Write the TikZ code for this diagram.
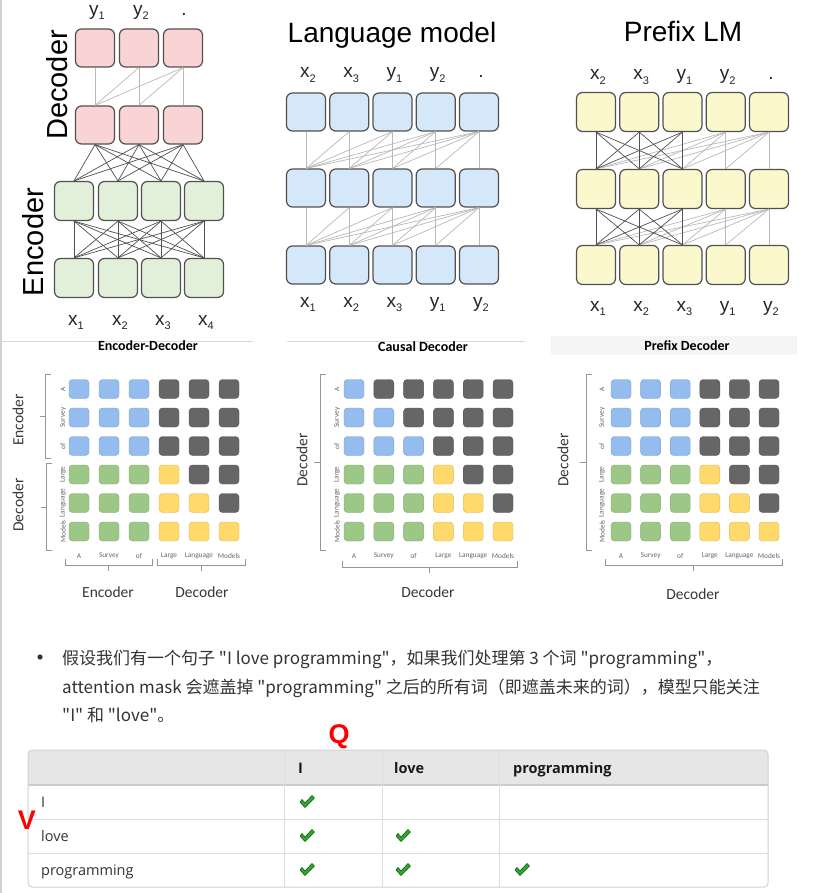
\documentclass[tikz,border=0pt]{standalone}
\usepackage{fontspec}
\setmainfont{Liberation Sans}
\newfontfamily\cjk{Noto Sans CJK SC}
\newfontfamily\carl{Carlito}
\newfontfamily\osans{Open Sans}
\usetikzlibrary{calc}
\definecolor{pinkf}{RGB}{250,212,212}
\definecolor{greenf}{RGB}{226,240,217}
\definecolor{bluef}{RGB}{213,232,250}
\definecolor{yellowf}{RGB}{252,248,206}
\definecolor{boxb}{RGB}{80,80,80}
\definecolor{lnlight}{RGB}{185,185,185}
\definecolor{lndark}{RGB}{80,80,80}
\definecolor{cb}{RGB}{148,188,238}
\definecolor{ck}{RGB}{102,102,102}
\definecolor{cg}{RGB}{156,199,134}
\definecolor{cy}{RGB}{255,217,108}
\definecolor{brkc}{RGB}{150,150,150}
\definecolor{txt}{RGB}{51,51,51}
\definecolor{hdr}{RGB}{230,230,230}
\definecolor{tline}{RGB}{221,221,221}
\definecolor{chk}{RGB}{40,175,40}
\definecolor{chkd}{RGB}{25,80,25}
\newcommand\nnlab[2]{{\fontsize{19}{19}\selectfont #1}\raisebox{-4.5pt}{\fontsize{11}{11}\selectfont #2}}
\newcommand\gridrow[6]{\foreach \cc [count=\kk] in {#6}{\node[cell, fill=\cc, draw=\cc!85!black] (#1r#2c\kk) at ({#4+(\kk-1)*#5},#3) {};}}
\newcommand\gridlabs[4]{\foreach \w [count=\kk] in {A,Survey,of,Large,Language,Models}{%
  \node[rlab, rotate=90] (#1rl\kk) at (#2,{389+(\kk-1)*28.5}) {\w};
  \node[rlab] (#1cl\kk) at ({#3+(\kk-1)*#4},556) {\w};}}
\begin{document}
\begin{tikzpicture}[x=1pt,y=-1pt,
  nnbox/.style={draw=boxb, line width=1.2pt, rounded corners=6pt, minimum width=39pt, minimum height=38pt, inner sep=0pt},
  lightln/.style={draw=lnlight, line width=0.7pt},
  darkln/.style={draw=lndark, line width=0.7pt},
  lbl/.style={anchor=base, inner sep=0pt, text=black!85},
  cell/.style={minimum width=20pt, minimum height=19pt, rounded corners=3.5pt, inner sep=0pt, line width=0.4pt},
  rlab/.style={font=\carl\fontsize{7.3}{7.3}\selectfont, text=black!60, inner sep=0pt},
  bigl/.style={font=\carl\fontsize{15.5}{15.5}\selectfont, text=black!78, inner sep=0pt},
  ttl/.style={font=\carl\bfseries\fontsize{14}{14}\selectfont, inner sep=0pt},
  brk/.style={draw=brkc, line width=0.7pt},
  tcell/.style={font=\osans\fontsize{14.5}{14.5}\selectfont, text=txt, inner sep=0pt, anchor=base west},
  thd/.style={font=\osans\bfseries\fontsize{14.5}{14.5}\selectfont, text=black!90, inner sep=0pt, anchor=base west},
  para/.style={font=\cjk\fontsize{17}{17}\selectfont, text=txt, inner sep=0pt, anchor=base west},
  chkmark/.pic={\filldraw[fill=chk, draw=chkd, line width=0.6pt, line join=round] (-5,-2.5) -- (-2,1) -- (5,-6.5) -- (7.5,-4) -- (-2,5.5) -- (-7,0) -- cycle;}
]
\fill[white] (0,0) rectangle (820,893);
\useasboundingbox (0,0) rectangle (820,893);
\draw[line width=2pt, draw={rgb,255:red,205;green,208;blue,212}] (1,0) -- (1,893);

% ---------- top-left: encoder-decoder ----------
\foreach \i/\x in {1/95,2/139,3/183} {
  \node[nnbox, fill=pinkf] (dt\i) at (\x,48) {};
  \node[nnbox, fill=pinkf] (db\i) at (\x,125) {};
}
\foreach \i/\x in {1/74,2/118,3/161,4/204} {
  \node[nnbox, fill=greenf, minimum height=39pt] (et\i) at (\x,201) {};
  \node[nnbox, fill=greenf, minimum height=39pt] (eb\i) at (\x,278) {};
}
\foreach \j in {1,2,3} \foreach \i in {1,...,\j} \draw[lightln] (dt\j.south) -- (db\i.north);
\foreach \i in {1,2,3} \foreach \k in {1,...,4} \draw[darkln] (db\i.south) -- (et\k.north);
\foreach \k in {1,...,4} \foreach \l in {1,...,4} \draw[darkln] (et\k.south) -- (eb\l.north);
\node[lbl] (tly1) at (97,15.5) {\nnlab{y}{1}};
\node[lbl] (tly2) at (141,15.5) {\nnlab{y}{2}};
\node[lbl] (tly3) at (184,15.5) {\nnlab{.}{}};
\foreach \i/\x in {1/76,2/120,3/163,4/206} \node[lbl] (tlx\i) at (\x,325) {\nnlab{x}{\i}};
\node[rotate=90, inner sep=0pt, font=\fontsize{29}{29}\selectfont] (tldec) at (57,85) {Decoder};
\node[rotate=90, inner sep=0pt, font=\fontsize{29}{29}\selectfont] (tlenc) at (33,242) {Encoder};

% ---------- language model ----------
\node[anchor=base, inner sep=0pt, font=\fontsize{28}{28}\selectfont] (lmtitle) at (392,43) {Language model};
\foreach \k in {1,...,5} {
  \pgfmathsetmacro\xx{306+(\k-1)*43.25}
  \node[nnbox, fill=bluef] (lmt\k) at (\xx,112) {};
  \node[nnbox, fill=bluef] (lmm\k) at (\xx,188) {};
  \node[nnbox, fill=bluef] (lmb\k) at (\xx,265) {};
}
\foreach \j in {1,...,5} \foreach \i in {1,...,\j} {
  \draw[lightln] (lmt\j.south) -- (lmm\i.north);
  \draw[lightln] (lmm\j.south) -- (lmb\i.north);
}
\foreach \a/\b [count=\k] in {x/2,x/3,y/1,y/2,./{}} {
  \pgfmathsetmacro\xx{308+(\k-1)*43.25}
  \node[lbl] (lmtl\k) at (\xx,78) {\nnlab{\a}{\b}};
}
\foreach \a/\b [count=\k] in {x/1,x/2,x/3,y/1,y/2} {
  \pgfmathsetmacro\xx{308+(\k-1)*43.25}
  \node[lbl] (lmbl\k) at (\xx,307) {\nnlab{\a}{\b}};
}

% ---------- prefix LM ----------
\node[anchor=base, inner sep=0pt, font=\fontsize{28}{28}\selectfont] (pltitle) at (683,42) {Prefix LM};
\foreach \k in {1,...,5} {
  \pgfmathsetmacro\xx{596+(\k-1)*43.25}
  \node[nnbox, fill=yellowf, minimum height=39pt] (plt\k) at (\xx,112) {};
  \node[nnbox, fill=yellowf, minimum height=39pt] (plm\k) at (\xx,189) {};
  \node[nnbox, fill=yellowf, minimum height=39pt] (plb\k) at (\xx,265) {};
}
\foreach \j in {4,5} \foreach \i in {1,...,\j} {
  \draw[lightln] (plt\j.south) -- (plm\i.north);
  \draw[lightln] (plm\j.south) -- (plb\i.north);
}
\foreach \j in {1,2,3} \foreach \i in {1,2,3} {
  \draw[darkln] (plt\j.south) -- (plm\i.north);
  \draw[darkln] (plm\j.south) -- (plb\i.north);
}
\foreach \a/\b [count=\k] in {x/2,x/3,y/1,y/2,./{}} {
  \pgfmathsetmacro\xx{598+(\k-1)*43.25}
  \node[lbl] (pltl\k) at (\xx,80) {\nnlab{\a}{\b}};
}
\foreach \a/\b [count=\k] in {x/1,x/2,x/3,y/1,y/2} {
  \pgfmathsetmacro\xx{598+(\k-1)*43.25}
  \node[lbl] (plbl\k) at (\xx,311) {\nnlab{\a}{\b}};
}

% ---------- separators ----------
\draw[draw=black!15, line width=1pt] (0,341) -- (253,341);
\draw[draw=black!15, line width=1pt] (287,341) -- (525,341);
\fill[black!4] (551,336) rectangle (797,355);

% ---------- mask panel 1: encoder-decoder ----------
\node[ttl] (p1title) at (148,346) {Encoder-Decoder};
\gridrow{pa}{1}{389}{79}{30}{cb,cb,cb,ck,ck,ck}
\gridrow{pa}{2}{417.5}{79}{30}{cb,cb,cb,ck,ck,ck}
\gridrow{pa}{3}{446}{79}{30}{cb,cb,cb,ck,ck,ck}
\gridrow{pa}{4}{474.5}{79}{30}{cg,cg,cg,cy,ck,ck}
\gridrow{pa}{5}{503}{79}{30}{cg,cg,cg,cy,cy,ck}
\gridrow{pa}{6}{531.5}{79}{30}{cg,cg,cg,cy,cy,cy}
\gridlabs{pa}{63}{79}{30}
\draw[brk] (51,374) -- (45,374) -- (45,458) -- (51,458);
\draw[brk] (45,416) -- (40,416);
\draw[brk] (52,463) -- (46,463) -- (46,550) -- (52,550);
\draw[brk] (46,507) -- (41,507);
\draw[brk] (65,559) -- (65,565) -- (152,565) -- (152,559);
\draw[brk] (108,565) -- (108,571);
\draw[brk] (157,559) -- (157,565) -- (245,565) -- (245,559);
\draw[brk] (201,565) -- (201,571);
\node[bigl, rotate=90] (p1le) at (18,420) {Encoder};
\node[bigl, rotate=90] (p1ld) at (18,505) {Decoder};
\node[bigl] (p1be) at (108,592) {Encoder};
\node[bigl] (p1bd) at (202,592) {Decoder};

% ---------- mask panel 2: causal decoder ----------
\node[ttl] (p2title) at (423,347) {Causal Decoder};
\gridrow{pb}{1}{389}{354}{29.8}{cb,ck,ck,ck,ck,ck}
\gridrow{pb}{2}{417.5}{354}{29.8}{cb,cb,ck,ck,ck,ck}
\gridrow{pb}{3}{446}{354}{29.8}{cb,cb,cb,ck,ck,ck}
\gridrow{pb}{4}{474.5}{354}{29.8}{cg,cg,cg,cy,ck,ck}
\gridrow{pb}{5}{503}{354}{29.8}{cg,cg,cg,cy,cy,ck}
\gridrow{pb}{6}{531.5}{354}{29.8}{cg,cg,cg,cy,cy,cy}
\gridlabs{pb}{337}{354}{29.8}
\draw[brk] (326,374) -- (320,374) -- (320,550) -- (326,550);
\draw[brk] (320,462) -- (314,462);
\draw[brk] (342,561) -- (342,567) -- (517,567) -- (517,561);
\draw[brk] (429,567) -- (429,573);
\node[bigl, rotate=90] (p2ld) at (302,460) {Decoder};
\node[bigl] (p2bd) at (428,592) {Decoder};

% ---------- mask panel 3: prefix decoder ----------
\node[ttl] (p3title) at (687,346) {Prefix Decoder};
\gridrow{pc}{1}{389}{621}{29.6}{cb,cb,cb,ck,ck,ck}
\gridrow{pc}{2}{417.5}{621}{29.6}{cb,cb,cb,ck,ck,ck}
\gridrow{pc}{3}{446}{621}{29.6}{cb,cb,cb,ck,ck,ck}
\gridrow{pc}{4}{474.5}{621}{29.6}{cg,cg,cg,cy,ck,ck}
\gridrow{pc}{5}{503}{621}{29.6}{cg,cg,cg,cy,cy,ck}
\gridrow{pc}{6}{531.5}{621}{29.6}{cg,cg,cg,cy,cy,cy}
\gridlabs{pc}{602}{621}{29.6}
\draw[brk] (592,374) -- (586,374) -- (586,550) -- (592,550);
\draw[brk] (586,462) -- (580,462);
\draw[brk] (605,559) -- (605,565) -- (782,565) -- (782,559);
\draw[brk] (693,565) -- (693,571);
\node[bigl, rotate=90] (p3ld) at (563,460) {Decoder};
\node[bigl] (p3bd) at (693,594) {Decoder};

% ---------- paragraph ----------
\fill[txt] (40,657) circle (2.6);
\node[para] (par1) at (62,664) {假设我们有一个句子 "I love programming"，如果我们处理第 3 个词 "programming"，};
\node[para] (par2) at (62,693) {attention mask 会遮盖掉 "programming" 之后的所有词（即遮盖未来的词），模型只能关注};
\node[para] (par3) at (62,721) {"I" 和 "love"。};

% ---------- table ----------
\begin{scope}
\clip[rounded corners=4pt] (28,750) rectangle (768,887);
\fill[hdr] (28,750) rectangle (768,785);
\end{scope}
\draw[draw=black!20, line width=1.5pt] (28,785) -- (768,785);
\draw[draw=tline, line width=1pt] (28,819) -- (768,819);
\draw[draw=tline, line width=1pt] (28,853) -- (768,853);
\foreach \x in {284,382,499} \draw[draw=tline, line width=1pt] (\x,750) -- (\x,887);
\draw[draw=black!18, line width=1pt, rounded corners=4pt] (28,750) rectangle (768,887);
\node[thd] (hI) at (298,773) {I};
\node[thd] (hlove) at (394,773) {love};
\node[thd] (hprog) at (513,773) {programming};
\node[tcell] (rI) at (41,807) {I};
\node[tcell] (rlove) at (41,841) {love};
\node[tcell] (rprog) at (41,875) {programming};
\pic (c11) at (307,802) {chkmark};
\pic (c21) at (307,836) {chkmark};
\pic (c22) at (403,836) {chkmark};
\pic (c31) at (307,870) {chkmark};
\pic (c32) at (403,870) {chkmark};
\pic (c33) at (522,870) {chkmark};
\node[text=red, inner sep=0pt, font=\bfseries\fontsize{27}{27}\selectfont] (qlab) at (339,737) {Q};
\node[text=red, inner sep=0pt, font=\bfseries\fontsize{27}{27}\selectfont] (vlab) at (27,820) {V};
\end{tikzpicture}
\end{document}
